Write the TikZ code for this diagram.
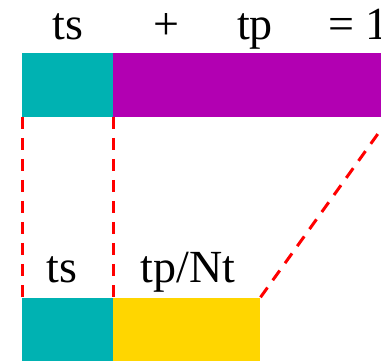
\documentclass[tikz,border=0pt]{standalone}
\usepackage{fontspec}
\setmainfont{Liberation Serif}
\definecolor{tsteal}{RGB}{0,178,178}
\definecolor{tpmagenta}{RGB}{178,0,178}
\definecolor{tpgold}{RGB}{255,214,0}

\begin{document}
\begin{tikzpicture}[
    x=1pt, y=-1pt,
    bar/.style={rectangle, draw=none, inner sep=0pt, outer sep=0pt,
                minimum height=64pt, anchor=north west},
    lbl/.style={anchor=base, inner sep=0pt, font=\fontsize{46}{50}\selectfont},
    link/.style={red, line width=3pt, dash pattern=on 12pt off 9pt}
]
\clip (0,0) rectangle (381,361);

% Top bar: ts + tp = 1
\node[bar, fill=tsteal, minimum width=91pt] (ts1) at (22,53) {};
\node[bar, fill=tpmagenta, minimum width=277pt] (tp1) at (113,53) {};
\node[lbl] (lts1) at (68,40) {ts};
\node[lbl] (lplus) at (166,40) {+};
\node[lbl] (ltp1) at (255,40) {tp};
\node[lbl, anchor=base west] (leq) at (328,40) {= 1};

% Bottom bar: ts + tp/Nt
\node[bar, fill=tsteal, minimum width=91pt] (ts2) at (22,298) {};
\node[bar, fill=tpgold, minimum width=147pt] (tp2) at (113,298) {};
\node[lbl] (lts2) at (62,283) {ts};
\node[lbl] (ltp2) at (188,283) {tp/Nt};

% Dashed links
\draw[link] (ts1.south west) -- (ts2.north west);
\draw[link] (ts1.south east) -- (ts2.north east);
\draw[link] (tp1.south east) -- (tp2.north east);
\end{tikzpicture}
\end{document}
